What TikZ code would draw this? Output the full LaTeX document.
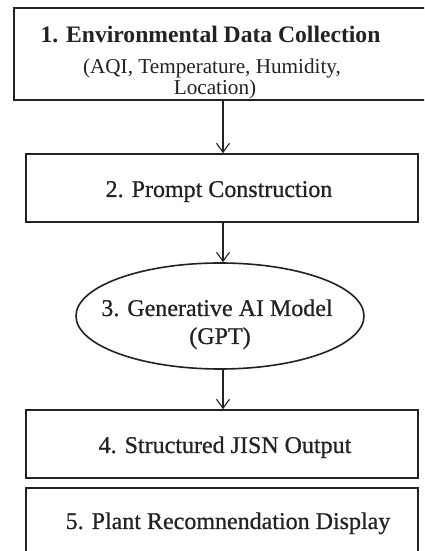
\documentclass[tikz,border=0pt]{standalone}
\usepackage{fontspec}
\setmainfont{Liberation Serif}
\newfontfamily\medfont[FakeBold=0.7]{Liberation Serif}
\usetikzlibrary{arrows.meta,shapes.geometric}
\definecolor{ink}{HTML}{222222}
\tikzset{
  box/.style={draw=ink, line width=1.6pt, rectangle, inner sep=0pt},
  oval/.style={draw=ink, line width=1.6pt, ellipse, inner sep=0pt},
  arr/.style={draw=ink, line width=1.1pt, -{Straight Barb[length=9pt,width=13pt,line width=1.1pt]}},
  lbl/.style={anchor=base, inner sep=0pt, text=ink, font=\medfont\fontsize{24}{26}\selectfont},
  ttl/.style={anchor=base, inner sep=0pt, text=ink, font=\fontsize{23.6}{25}\selectfont\bfseries},
  sub/.style={anchor=base, inner sep=0pt, text=ink, font=\fontsize{21.2}{23}\selectfont},
}
\begin{document}
\begin{tikzpicture}[x=1pt,y=1pt]
\useasboundingbox (0,0) rectangle (424,551);
\clip (0,0) rectangle (424,551);
\fill[white] (0,0) rectangle (424,551);
% boxes
\node[box, minimum width=416pt, minimum height=92pt] (b1) at (222,497) {};
\node[box, minimum width=392pt, minimum height=68pt] (b2) at (222,363) {};
\node[oval, minimum width=288pt, minimum height=106pt] (b3) at (220,235) {};
\node[box, minimum width=392pt, minimum height=68pt] (b4) at (222,107) {};
\node[box, minimum width=392pt, minimum height=72pt] (b5) at (222,27) {};
% texts
\node[ttl] (t1) at (210.5,508) {1. Environmental Data Collection};
\node[sub] (t1b) at (212,477) {(AQI, Temperature, Humidity,};
\node[sub] (t1c) at (215,456) {Location)};
\node[lbl] (t2) at (219,354) {2. Prompt Construction};
\node[lbl] (t3) at (217,235) {3. Generative AI Model};
\node[lbl] (t3b) at (220,207) {(GPT)};
\node[lbl] (t4) at (225,98) {4. Structured JISN Output};
\node[lbl] (t5) at (228,22) {5. Plant Recomnendation Display};
% arrows
\coordinate (a1) at (b1.south -| 223,0);
\draw[arr] (a1) -- (a1 |- b2.north);
\coordinate (a2) at (b2.south -| 223,0);
\draw[arr] (a2) -- (a2 |- b3.north);
\coordinate (a3) at (b3.south -| 223,0);
\draw[arr] (a3) -- (a3 |- b4.north);
\end{tikzpicture}
\end{document}
